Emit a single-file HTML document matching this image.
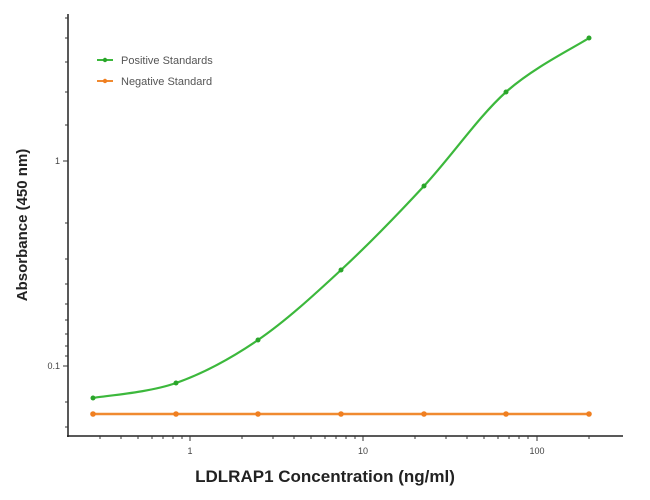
<!DOCTYPE html>
<html><head><style>body{margin:0;background:#fff}svg{display:block}</style></head><body>
<svg width="650" height="500" xmlns="http://www.w3.org/2000/svg" font-family="Liberation Sans, sans-serif">
<g stroke="#222" stroke-width="1.5" fill="none">
<line x1="68" y1="14" x2="68" y2="437"/>
<line x1="67" y1="436" x2="623" y2="436"/>
</g>
<g stroke="#333" stroke-width="1">
<line x1="63" y1="366" x2="68" y2="366"/><line x1="63" y1="161" x2="68" y2="161"/>
<line x1="65" y1="18" x2="68" y2="18"/><line x1="65" y1="38" x2="68" y2="38"/><line x1="65" y1="62" x2="68" y2="62"/><line x1="65" y1="92" x2="68" y2="92"/><line x1="65" y1="125" x2="68" y2="125"/>
<line x1="65" y1="223" x2="68" y2="223"/><line x1="65" y1="259" x2="68" y2="259"/><line x1="65" y1="284" x2="68" y2="284"/><line x1="65" y1="304" x2="68" y2="304"/><line x1="65" y1="320" x2="68" y2="320"/><line x1="65" y1="334" x2="68" y2="334"/><line x1="65" y1="346" x2="68" y2="346"/><line x1="65" y1="356" x2="68" y2="356"/>
<line x1="65" y1="402" x2="68" y2="402"/><line x1="65" y1="427" x2="68" y2="427"/>
<line x1="190" y1="436" x2="190" y2="441"/><line x1="363" y1="436" x2="363" y2="441"/><line x1="537" y1="436" x2="537" y2="441"/>
<line x1="100" y1="436" x2="100" y2="439"/><line x1="121" y1="436" x2="121" y2="439"/><line x1="138" y1="436" x2="138" y2="439"/><line x1="152" y1="436" x2="152" y2="439"/><line x1="163" y1="436" x2="163" y2="439"/><line x1="173" y1="436" x2="173" y2="439"/><line x1="182" y1="436" x2="182" y2="439"/>
<line x1="242" y1="436" x2="242" y2="439"/><line x1="273" y1="436" x2="273" y2="439"/><line x1="294" y1="436" x2="294" y2="439"/><line x1="311" y1="436" x2="311" y2="439"/><line x1="325" y1="436" x2="325" y2="439"/><line x1="336" y1="436" x2="336" y2="439"/><line x1="346" y1="436" x2="346" y2="439"/><line x1="355" y1="436" x2="355" y2="439"/>
<line x1="415" y1="436" x2="415" y2="439"/><line x1="446" y1="436" x2="446" y2="439"/><line x1="467" y1="436" x2="467" y2="439"/><line x1="484" y1="436" x2="484" y2="439"/><line x1="498" y1="436" x2="498" y2="439"/><line x1="509" y1="436" x2="509" y2="439"/><line x1="519" y1="436" x2="519" y2="439"/><line x1="528" y1="436" x2="528" y2="439"/>
<line x1="589" y1="436" x2="589" y2="439"/>
</g>
<g font-size="9" fill="#444">
<text x="60" y="369" text-anchor="end">0.1</text>
<text x="60" y="164" text-anchor="end">1</text>
<text x="190" y="454" text-anchor="middle">1</text>
<text x="363" y="454" text-anchor="middle">10</text>
<text x="537" y="454" text-anchor="middle">100</text>
</g>
<text x="325" y="482" text-anchor="middle" font-size="17" font-weight="bold" fill="#222">LDLRAP1 Concentration (ng/ml)</text>
<text transform="translate(27,225) rotate(-90)" text-anchor="middle" font-size="15" font-weight="bold" fill="#222">Absorbance (450 nm)</text>
<line x1="93" y1="414" x2="589" y2="414" stroke="#f08a30" stroke-width="2.5"/>
<g fill="#f07f20">
<circle cx="93" cy="414" r="2.8"/><circle cx="176" cy="414" r="2.8"/><circle cx="258" cy="414" r="2.8"/><circle cx="341" cy="414" r="2.8"/><circle cx="424" cy="414" r="2.8"/><circle cx="506" cy="414" r="2.8"/><circle cx="589" cy="414" r="2.8"/>
</g>
<path d="M93,398 C106.8,395.5 148.5,392.7 176,383 C203.5,373.3 230.5,358.8 258,340 C285.5,321.2 313.3,295.7 341,270 C368.7,244.3 396.5,215.7 424,186 C451.5,156.3 478.5,116.7 506,92 C533.5,67.3 575.2,47 589,38" fill="none" stroke="#3cb83c" stroke-width="2.2"/>
<g fill="#2aa52a">
<circle cx="93" cy="398" r="2.5"/><circle cx="176" cy="383" r="2.5"/><circle cx="258" cy="340" r="2.5"/><circle cx="341" cy="270" r="2.5"/><circle cx="424" cy="186" r="2.5"/><circle cx="506" cy="92" r="2.5"/><circle cx="589" cy="38" r="2.5"/>
</g>
<line x1="97" y1="60" x2="113" y2="60" stroke="#3cb83c" stroke-width="2"/><circle cx="105" cy="60" r="2.2" fill="#2aa52a"/>
<line x1="97" y1="81" x2="113" y2="81" stroke="#f08a30" stroke-width="2"/><circle cx="105" cy="81" r="2.2" fill="#f07f20"/>
<text x="121" y="64" font-size="11" fill="#555">Positive Standards</text>
<text x="121" y="85" font-size="11" fill="#555">Negative Standard</text>
</svg>
</body></html>
